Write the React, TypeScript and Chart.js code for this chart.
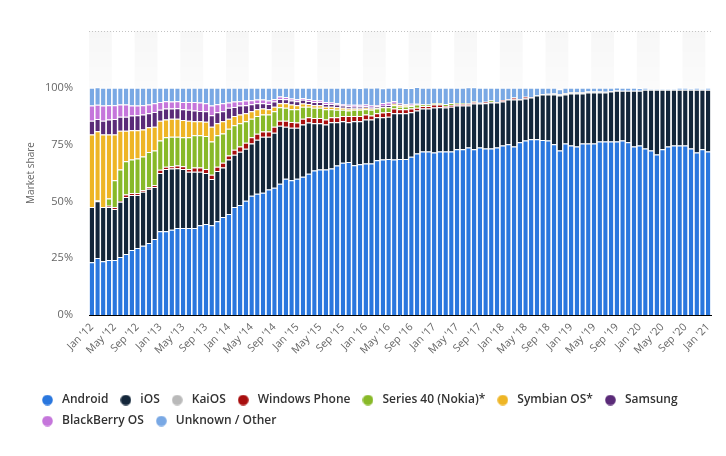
import React, { useEffect, useRef } from "react";
import { Chart, registerables } from "chart.js";

Chart.register(...registerables);

const monthNames = ["Jan", "Feb", "Mar", "Apr", "May", "Jun", "Jul", "Aug", "Sep", "Oct", "Nov", "Dec"];
const years = ["12", "13", "14", "15", "16", "17", "18", "19", "20", "21"];
const categories: string[] = [];
years.forEach((y) => monthNames.forEach((m) => {
  if (y === "21" && m !== "Jan") return;
  categories.push(`${m} '${y}`);
}));

const android = [
  23.2, 25.1, 23.7, 24.2, 24.2, 25.5, 26.8, 28.6, 29.5, 30.5,
  31.7, 33.5, 36.9, 36.9, 37.5, 38.3, 38.3, 38.3, 38.3, 39.5,
  40.1, 39.5, 41.3, 43.1, 44.5, 47.5, 48.4, 50.3, 52.5, 53.4,
  53.8, 55.2, 56.0, 57.8, 60.0, 59.3, 60.0, 60.9, 62.2, 63.6,
  64.0, 64.0, 64.5, 65.8, 67.0, 67.3, 65.9, 66.4, 66.7, 66.7,
  68.1, 68.4, 68.7, 68.4, 68.7, 68.7, 69.6, 71.1, 72.0, 72.0,
  71.5, 72.0, 72.0, 72.0, 72.9, 72.9, 73.7, 72.9, 73.7, 73.3,
  73.3, 73.7, 74.6, 75.1, 74.2, 76.0, 76.8, 77.3, 77.3, 77.0,
  76.8, 75.1, 72.4, 75.5, 74.6, 74.2, 75.5, 75.5, 75.5, 76.4,
  76.4, 76.4, 76.4, 76.8, 76.0, 74.2, 74.6, 73.3, 72.4, 70.6,
  72.9, 74.2, 74.6, 74.6, 74.6, 73.3, 71.5, 72.9, 72.0,
];
const ios = [
  24.3, 25.0, 23.8, 23.3, 22.4, 24.4, 25.1, 24.2, 23.3, 23.8,
  23.9, 22.8, 25.6, 27.4, 27.0, 26.3, 26.0, 24.8, 24.8, 23.6,
  22.4, 20.4, 22.1, 21.8, 23.9, 23.0, 23.4, 22.9, 23.0, 23.7,
  24.7, 23.3, 24.2, 25.5, 22.9, 23.1, 22.4, 23.0, 22.5, 20.8,
  20.4, 19.9, 20.3, 19.0, 18.3, 17.5, 19.4, 18.9, 19.4, 19.4,
  18.9, 18.6, 18.6, 20.4, 20.1, 20.1, 19.6, 18.9, 18.9, 18.9,
  19.8, 19.4, 19.3, 19.7, 19.3, 19.3, 18.5, 20.2, 19.4, 19.9,
  20.2, 19.8, 19.4, 19.7, 20.6, 18.8, 18.5, 18.4, 19.3, 20.1,
  20.3, 22.0, 24.2, 21.6, 22.9, 23.3, 22.0, 22.4, 22.4, 21.5,
  21.5, 22.0, 22.3, 21.9, 22.7, 24.5, 24.1, 25.8, 26.7, 28.5,
  26.2, 24.9, 24.5, 24.5, 24.5, 25.8, 27.6, 26.2, 27.1,
];
const kaios = [
  0, 0, 0, 0, 0, 0, 0, 0, 0, 0,
  0, 0, 0, 0, 0, 0, 0, 0, 0, 0,
  0, 0, 0, 0, 0, 0, 0, 0, 0, 0,
  0, 0, 0, 0, 0, 0, 0, 0, 0, 0,
  0, 0, 0, 0, 0, 0, 0, 0, 0, 0,
  0, 0, 0, 0, 0, 0, 0, 0, 0, 0,
  0, 0, 0, 0, 0, 0, 0, 0, 0, 0,
  0, 0, 0, 0, 0, 0, 0, 0, 0, 0.2,
  0.3, 0.4, 0.6, 0.6, 0.6, 0.6, 0.6, 0.5, 0.5, 0.5,
  0.4, 0.2, 0.1, 0, 0, 0, 0, 0, 0, 0,
  0, 0, 0, 0, 0, 0, 0, 0, 0,
];
const windowsPhone = [
  0, 0.2, 0, 0.6, 0.9, 0.3, 1.1, 0.9, 0.9, 0.6,
  0.7, 0.9, 1.4, 0.9, 1.0, 1.2, 1.2, 1.2, 1.8, 1.8,
  1.8, 1.8, 1.8, 2.1, 1.8, 2.2, 2.4, 2.6, 2.7, 2.7,
  2.3, 2.3, 2.7, 2.2, 2.6, 2.6, 2.3, 2.5, 2.3, 2.3,
  2.3, 2.2, 2.2, 2.2, 2.3, 2.8, 2.3, 2.3, 2.2, 1.7,
  1.8, 2.1, 2.1, 2.1, 1.8, 1.8, 1.7, 1.2, 1.1, 1.1,
  1.3, 1.2, 0.7, 0.7, 0.7, 0.7, 0.7, 0.7, 0.3, 0.7,
  0.3, 0.3, 0.6, 0.3, 0.9, 0.3, 0.8, 0.2, 0, 0,
  0, 0, 0, 0, 0, 0, 0, 0, 0, 0,
  0, 0, 0, 0, 0, 0, 0, 0, 0, 0,
  0, 0, 0, 0, 0, 0, 0, 0, 0,
];
const series40 = [
  0, 0.3, 0, 3.2, 11.8, 13.8, 14.7, 14.7, 15.2, 14.9,
  15.4, 15.2, 12.9, 13.0, 13.0, 12.7, 12.7, 13.9, 14.2, 14.2,
  14.5, 14.7, 13.9, 12.9, 11.8, 10.8, 10.2, 9.5, 8.2, 7.8,
  7.5, 7.5, 6.8, 5.9, 5.7, 5.6, 5.9, 5.3, 4.7, 4.5,
  4.5, 4.5, 3.6, 3.3, 2.7, 2.4, 2.7, 2.7, 2.3, 2.5,
  2.1, 2.3, 2.0, 1.4, 1.1, 1.2, 1.1, 1.4, 0.7, 0.7,
  0.7, 0.7, 0.9, 0.9, 0.3, 0.3, 0.2, 0.2, 0, 0,
  0.6, 0, 0, 0, 0, 0, 0, 0, 0, 0,
  0, 0, 0, 0, 0, 0, 0, 0, 0, 0,
  0, 0, 0, 0, 0, 0, 0, 0, 0, 0,
  0, 0, 0, 0, 0, 0, 0, 0, 0,
];
const symbian = [
  31.9, 30.3, 31.9, 28.1, 20.1, 17.1, 13.4, 12.9, 12.4, 11.9,
  10.9, 10.5, 8.7, 7.9, 7.9, 7.9, 7.6, 7.3, 6.2, 6.2,
  6.3, 6.5, 5.3, 5.4, 4.4, 4.1, 3.9, 3.5, 3.3, 3.0,
  2.6, 2.3, 2.0, 1.8, 2.0, 2.0, 1.7, 1.4, 1.2, 1.1,
  1.1, 1.1, 1.1, 1.1, 0.9, 0.9, 0.6, 0.6, 0.6, 0.6,
  0.3, 0.2, 0.2, 0.6, 0.6, 0.5, 0.2, 0.1, 0, 0,
  0, 0, 0, 0, 0, 0, 0, 0, 0, 0,
  0, 0, 0, 0, 0, 0, 0, 0, 0, 0,
  0, 0, 0, 0, 0, 0, 0, 0, 0, 0,
  0, 0, 0, 0, 0, 0, 0, 0, 0, 0,
  0, 0, 0, 0, 0, 0, 0, 0, 0,
];
const samsung = [
  6.1, 5.4, 6.1, 6.6, 6.9, 6.2, 6.2, 6.5, 6.6, 6.6,
  6.2, 6.5, 4.8, 4.8, 4.5, 4.6, 4.8, 4.8, 4.7, 4.5,
  4.6, 5.0, 4.8, 4.4, 4.8, 4.0, 3.9, 3.5, 3.1, 2.6,
  2.3, 2.3, 2.3, 1.9, 1.8, 1.8, 1.8, 1.6, 1.3, 1.5,
  1.5, 1.2, 1.2, 1.2, 1.0, 1.0, 0.8, 0.9, 0.7, 0.7,
  0.7, 0.5, 0.7, 0.3, 0.6, 0.3, 0.2, 0.1, 0, 0,
  0, 0, 0, 0, 0, 0, 0, 0, 0, 0,
  0, 0, 0, 0, 0, 0, 0, 0, 0, 0,
  0, 0, 0, 0, 0, 0, 0, 0, 0, 0,
  0, 0, 0, 0, 0, 0, 0, 0, 0, 0,
  0, 0, 0, 0, 0, 0, 0, 0, 0,
];
const blackberry = [
  6.7, 6.2, 6.7, 6.3, 6.0, 5.3, 5.3, 4.4, 4.3, 4.0,
  3.8, 3.8, 3.5, 3.2, 3.1, 3.1, 3.2, 3.5, 3.7, 3.7,
  3.5, 4.3, 3.6, 3.5, 2.3, 2.4, 1.9, 2.1, 1.7, 1.6,
  1.6, 1.5, 1.1, 1.1, 0.9, 0.9, 0.9, 0.7, 0.9, 0.7,
  0.6, 0.8, 0.6, 0.6, 0.6, 0.6, 0.8, 0.7, 0.8, 0.6,
  0.5, 1.2, 1.2, 0.9, 0.2, 0.3, 0.6, 0.2, 0.1, 0,
  0, 0, 0, 0, 0, 0, 0, 0, 0, 0,
  0, 0, 0, 0, 0, 0, 0, 0, 0, 0,
  0, 0, 0, 0, 0, 0, 0, 0, 0, 0,
  0, 0, 0, 0, 0, 0, 0, 0, 0, 0,
  0, 0, 0, 0, 0, 0, 0, 0, 0,
];
const unknownOther = [
  7.8, 7.7, 7.8, 7.7, 7.7, 7.4, 7.4, 7.8, 7.8, 7.7,
  7.4, 6.8, 6.2, 5.9, 6.0, 5.9, 6.2, 6.2, 6.3, 6.5,
  6.8, 7.8, 7.2, 6.8, 6.5, 6.0, 5.9, 5.6, 5.5, 5.2,
  5.2, 5.6, 4.9, 3.8, 4.1, 4.7, 5.0, 4.6, 4.9, 5.5,
  5.6, 6.3, 6.5, 6.8, 7.2, 7.5, 7.5, 7.4, 7.4, 7.8,
  7.7, 6.5, 6.5, 5.9, 7.0, 7.0, 6.9, 7.4, 7.2, 7.3,
  6.7, 6.7, 7.1, 6.7, 6.8, 6.8, 7.1, 6.2, 6.6, 6.1,
  5.6, 6.2, 5.4, 4.9, 4.3, 4.9, 3.9, 4.1, 3.4, 2.7,
  2.6, 2.5, 2.2, 2.3, 1.9, 1.9, 1.9, 1.6, 1.6, 1.6,
  1.7, 1.4, 1.3, 1.3, 1.3, 1.3, 1.2, 0.9, 0.4, 0.4,
  0.4, 0.4, 0.4, 0.9, 0.9, 0.5, 0.9, 0.4, 0.9,
];

const seriesNames = ["Android", "iOS", "KaiOS", "Windows Phone", "Series 40 (Nokia)*", "Symbian OS*", "Samsung", "BlackBerry OS", "Unknown / Other"];
const seriesColors = ["#2a77de", "#13263a", "#b9b9b9", "#a80e0e", "#88b928", "#eeb525", "#5a2a78", "#c576db", "#79a8e4"];
const seriesData = [android, ios, kaios, windowsPhone, series40, symbian, samsung, blackberry, unknownOther];
const yTicks = [0, 25, 50, 75, 100];

function makeDot(color: string) {
  const c = document.createElement("canvas");
  c.width = 11;
  c.height = 11;
  const g = c.getContext("2d")!;
  g.fillStyle = color;
  g.beginPath();
  g.arc(5.5, 5.5, 5.3, 0, Math.PI * 2);
  g.fill();
  return c;
}

const bandsPlugin = {
  id: "bands",
  beforeDatasetsDraw(chart: any) {
    const { ctx, chartArea, scales } = chart;
    const x = scales.x;
    const n = categories.length;
    const step = (chartArea.right - chartArea.left) / n;
    ctx.save();
    const grad = ctx.createLinearGradient(0, chartArea.top, 0, chartArea.bottom);
    grad.addColorStop(0, "rgba(0,0,0,0.03)");
    grad.addColorStop(0.25, "rgba(0,0,0,0.012)");
    grad.addColorStop(1, "rgba(0,0,0,0.005)");
    ctx.fillStyle = grad;
    for (let g = 0; g * 4 < n; g += 2) {
      const i0 = g * 4;
      const i1 = Math.min(i0 + 3, n - 1);
      const l = x.getPixelForValue(i0) - step / 2;
      const r = x.getPixelForValue(i1) + step / 2;
      ctx.fillRect(l, chartArea.top, r - l, chartArea.bottom - chartArea.top);
    }
    ctx.strokeStyle = "#c4c4c4";
    ctx.lineWidth = 1;
    ctx.setLineDash([1, 2]);
    ctx.beginPath();
    ctx.moveTo(chartArea.left, chartArea.top + 0.5);
    ctx.lineTo(chartArea.right, chartArea.top + 0.5);
    ctx.stroke();
    ctx.restore();
  },
};

export default function App() {
  const ref = useRef<HTMLCanvasElement | null>(null);
  useEffect(() => {
    if (!ref.current) return;
    Chart.defaults.font.family = "'Open Sans', sans-serif";
    const dots = seriesColors.map(makeDot);
    const chart = new Chart(ref.current, {
      type: "bar",
      data: {
        labels: categories,
        datasets: seriesNames.map((name, i) => ({
          label: name,
          data: seriesData[i],
          backgroundColor: seriesColors[i],
          borderColor: "#ffffff",
          borderWidth: { top: 1, right: 0, bottom: 0, left: 0 },
          barPercentage: 0.78,
          categoryPercentage: 1,
        })),
      },
      options: {
        responsive: false,
        animation: false,
        layout: { padding: { left: 30, right: 15, top: 31, bottom: 19 } },
        plugins: {
          tooltip: { enabled: false },
          legend: {
            position: "bottom",
            align: "start",
            labels: {
              usePointStyle: true,
              pointStyleWidth: 17,
              padding: 9,
              color: "#333333",
              font: { family: "'Open Sans', sans-serif", size: 12, weight: "600" },
              generateLabels: (c: any) => {
                const items = (Chart.defaults.plugins.legend.labels as any).generateLabels(c);
                return items.map((it: any, i: number) => ({ ...it, pointStyle: dots[i] }));
              },
            },
          },
        },
        scales: {
          x: {
            stacked: true,
            grid: { display: false, drawTicks: false },
            border: { display: true, color: "#000000", width: 1 },
            afterFit: (s: any) => { s.height = 70; },
            ticks: {
              autoSkip: false,
              minRotation: 45,
              maxRotation: 45,
              padding: 6,
              color: "#666666",
              font: { size: 10.5 },
              callback: (_v: any, idx: number) => (idx % 4 === 0 ? categories[idx] : ""),
            },
          },
          y: {
            stacked: true,
            min: 0,
            max: 125,
            afterFit: (s: any) => { s.width = 59; },
            afterBuildTicks: (s: any) => { s.ticks = yTicks.map((v) => ({ value: v })); },
            grid: { display: false, drawTicks: false },
            border: { display: false },
            ticks: {
              padding: 16,
              color: "#666666",
              font: { size: 11 },
              callback: (v: any) => `${v}%`,
            },
            title: {
              display: true,
              text: "Market share",
              color: "#666666",
              font: { size: 10 },
              padding: { top: -5, bottom: 0 },
            },
          },
        },
      },
      plugins: [bandsPlugin],
    });
    return () => chart.destroy();
  }, []);
  return (
    <div style={{ position: "absolute", left: 0, top: 0, width: 726, height: 456, background: "#fff" }}>
      <canvas ref={ref} width={726} height={456} style={{ width: 726, height: 456 }} />
    </div>
  );
}
